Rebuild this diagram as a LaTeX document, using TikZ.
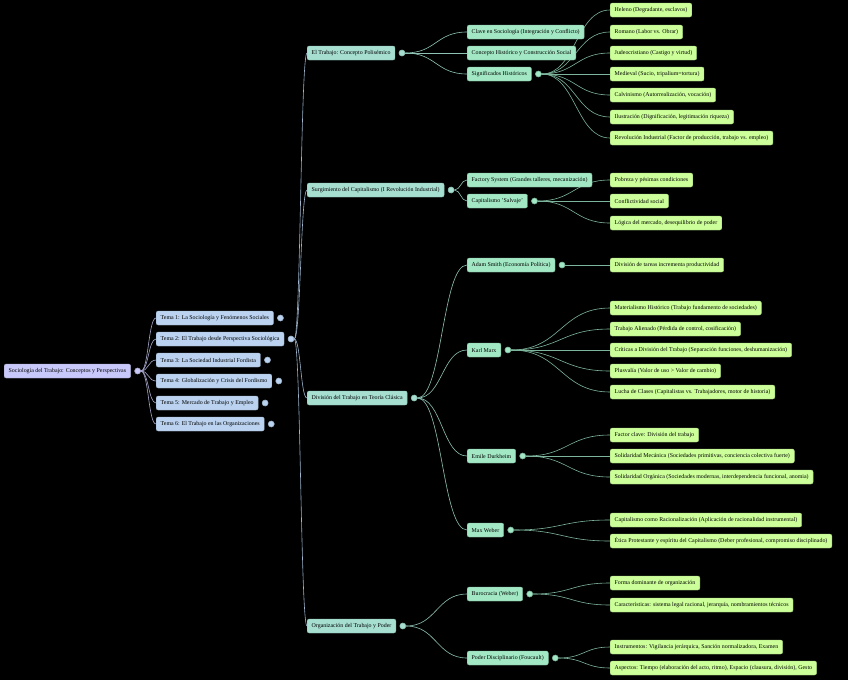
\documentclass[tikz,border=0pt]{standalone}
\usepackage{fontspec}
\setmainfont{Liberation Serif}
\usetikzlibrary{calc, positioning}

\definecolor{rootfill}{HTML}{C8C8FA}
\definecolor{temafill}{HTML}{BBD3F0}
\definecolor{secfill}{HTML}{A6DED0}
\definecolor{subfill}{HTML}{A2E8C4}
\definecolor{leaffill}{HTML}{CCFF99}
\definecolor{rootline}{HTML}{A8A8CC}
\definecolor{temaline}{HTML}{9DB4CC}
\definecolor{secline}{HTML}{8EC2B4}
\definecolor{subline}{HTML}{7DB59C}

\pgfdeclarelayer{bg}
\pgfdeclarelayer{edges}
\pgfsetlayers{bg,edges,main}

\begin{document}
\begin{tikzpicture}[
  x=1pt, y=-1pt,
  box/.style={rectangle, rounded corners=2pt, anchor=west, minimum height=14pt, inner xsep=4.5pt, inner ysep=0pt, font=\fontsize{5.9}{7}\selectfont, text=black},
  rootbox/.style={box, fill=rootfill, draw=rootline},
  temabox/.style={box, fill=temafill, draw=temaline},
  secbox/.style={box, fill=secfill, draw=secline},
  subbox/.style={box, fill=subfill, draw=subline},
  leafbox/.style={box, fill=leaffill, draw=leaffill!80!black},
  dot/.style={circle, minimum size=6pt, inner sep=0pt, line width=0.6pt, right=3.5pt of #1},
  link/.style={line width=0.6pt, to path={let \p1=(\tikztostart), \p2=(\tikztotarget) in .. controls ({(\x1+\x2)/2},\y1) and ({(\x1+\x2)/2},\y2) .. (\tikztotarget)}}
]
\begin{pgfonlayer}{bg}
  \path[fill=black] (0,0) rectangle (848,680);
\end{pgfonlayer}

% root and topics
\node[rootbox] (root) at (4,371) {Sociología del Trabajo: Conceptos y Perspectivas};
\node[dot=root, fill=rootfill, draw=rootline] (rootc) {};

\node[temabox] (t1) at (156,318) {Tema 1: La Sociología y Fenómenos Sociales};
\node[temabox] (t2) at (156,339) {Tema 2: El Trabajo desde Perspectiva Sociológica};
\node[temabox] (t3) at (156,360) {Tema 3: La Sociedad Industrial Fordista};
\node[temabox] (t4) at (156,381) {Tema 4: Globalización y Crisis del Fordismo};
\node[temabox] (t5) at (156,403) {Tema 5: Mercado de Trabajo y Empleo};
\node[temabox] (t6) at (156,424) {Tema 6: El Trabajo en las Organizaciones};
\foreach \t in {t1,t2,t3,t4,t5,t6}
  \node[dot=\t, fill=temafill, draw=temaline] (\t c) {};

% sections of tema 2
\node[secbox] (trab) at (307,53) {El Trabajo: Concepto Polisémico};
\node[secbox] (capi) at (307,190) {Surgimiento del Capitalismo (I Revolución Industrial)};
\node[secbox] (divi) at (307,398) {División del Trabajo en Teoría Clásica};
\node[secbox] (orga) at (307,626) {Organización del Trabajo y Poder};
\foreach \s in {trab,capi,divi,orga}
  \node[dot=\s, fill=secfill, draw=secline] (\s c) {};

% sub topics
\node[subbox] (clave) at (467,32) {Clave en Sociología (Integración y Conflicto)};
\node[subbox] (histo) at (467,53) {Concepto Histórico y Construcción Social};
\node[subbox] (signi) at (467,74) {Significados Históricos};
\node[subbox] (facto) at (467,180) {Factory System (Grandes talleres, mecanización)};
\node[subbox] (salva) at (467,201) {Capitalismo 'Salvaje'};
\node[subbox] (smith) at (467,265) {Adam Smith (Economía Política)};
\node[subbox] (marx) at (467,350) {Karl Marx};
\node[subbox] (durk) at (467,456) {Emile Durkheim};
\node[subbox] (weber) at (467,530) {Max Weber};
\node[subbox] (buro) at (467,594) {Burocracia (Weber)};
\node[subbox] (fouc) at (467,658) {Poder Disciplinario (Foucault)};
\foreach \s in {signi,salva,smith,marx,durk,weber,buro,fouc}
  \node[dot=\s, fill=subfill, draw=subline] (\s c) {};

% leaves
\node[leafbox] (sg1) at (610,10) {Heleno (Degradante, esclavos)};
\node[leafbox] (sg2) at (610,32) {Romano (Labor vs. Obrar)};
\node[leafbox] (sg3) at (610,53) {Judeocristiano (Castigo y virtud)};
\node[leafbox] (sg4) at (610,74) {Medieval (Sucio, tripalium=tortura)};
\node[leafbox] (sg5) at (610,95) {Calvinismo (Autorrealización, vocación)};
\node[leafbox] (sg6) at (610,117) {Ilustración (Dignificación, legitimación riqueza)};
\node[leafbox] (sg7) at (610,138) {Revolución Industrial (Factor de producción, trabajo vs. empleo)};
\node[leafbox] (sv1) at (610,180) {Pobreza y pésimas condiciones};
\node[leafbox] (sv2) at (610,201) {Conflictividad social};
\node[leafbox] (sv3) at (610,223) {Lógica del mercado, desequilibrio de poder};
\node[leafbox] (sm1) at (610,265) {División de tareas incrementa productividad};
\node[leafbox] (mx1) at (610,308) {Materialismo Histórico (Trabajo fundamento de sociedades)};
\node[leafbox] (mx2) at (610,329) {Trabajo Alienado (Pérdida de control, cosificación)};
\node[leafbox] (mx3) at (610,350) {Críticas a División del Trabajo (Separación funciones, deshumanización)};
\node[leafbox] (mx4) at (610,371) {Plusvalía (Valor de uso > Valor de cambio)};
\node[leafbox] (mx5) at (610,392) {Lucha de Clases (Capitalistas vs. Trabajadores, motor de historia)};
\node[leafbox] (dk1) at (610,435) {Factor clave: División del trabajo};
\node[leafbox] (dk2) at (610,456) {Solidaridad Mecánica (Sociedades primitivas, conciencia colectiva fuerte)};
\node[leafbox] (dk3) at (610,477) {Solidaridad Orgánica (Sociedades modernas, interdependencia funcional, anomia)};
\node[leafbox] (wb1) at (610,520) {Capitalismo como Racionalización (Aplicación de racionalidad instrumental)};
\node[leafbox] (wb2) at (610,541) {Ética Protestante y espíritu del Capitalismo (Deber profesional, compromiso disciplinado)};
\node[leafbox] (br1) at (610,583) {Forma dominante de organización};
\node[leafbox] (br2) at (610,605) {Características: sistema legal racional, jerarquía, nombramientos técnicos};
\node[leafbox] (fc1) at (610,647) {Instrumentos: Vigilancia jerárquica, Sanción normalizadora, Examen};
\node[leafbox] (fc2) at (610,668) {Aspectos: Tiempo (elaboración del acto, ritmo), Espacio (clausura, división), Gesto};

% links, behind the boxes
\begin{pgfonlayer}{edges}
\foreach \t in {t1,t2,t3,t4,t5,t6}
  \draw[link, rootline] (rootc.east) to (\t.west);
\foreach \s in {trab,capi,divi,orga}
  \draw[link, temaline] (t2c.east) to (\s.west);
\foreach \s in {clave,histo,signi}
  \draw[link, secline] (trabc.east) to (\s.west);
\foreach \s in {facto,salva}
  \draw[link, secline] (capic.east) to (\s.west);
\foreach \s in {smith,marx,durk,weber}
  \draw[link, secline] (divic.east) to (\s.west);
\foreach \s in {buro,fouc}
  \draw[link, secline] (orgac.east) to (\s.west);
\foreach \l in {sg1,sg2,sg3,sg4,sg5,sg6,sg7}
  \draw[link, subline] (signic.east) to (\l.west);
\foreach \l in {sv1,sv2,sv3}
  \draw[link, subline] (salvac.east) to (\l.west);
\draw[link, subline] (smithc.east) to (sm1.west);
\foreach \l in {mx1,mx2,mx3,mx4,mx5}
  \draw[link, subline] (marxc.east) to (\l.west);
\foreach \l in {dk1,dk2,dk3}
  \draw[link, subline] (durkc.east) to (\l.west);
\foreach \l in {wb1,wb2}
  \draw[link, subline] (weberc.east) to (\l.west);
\foreach \l in {br1,br2}
  \draw[link, subline] (buroc.east) to (\l.west);
\foreach \l in {fc1,fc2}
  \draw[link, subline] (foucc.east) to (\l.west);
\end{pgfonlayer}
\end{tikzpicture}
\end{document}
